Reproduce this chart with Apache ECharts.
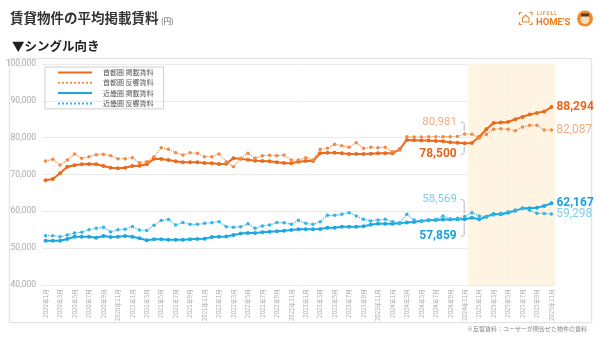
<!DOCTYPE html>
<html><head><meta charset="utf-8">
<script src="https://cdn.jsdelivr.net/npm/echarts@6/dist/echarts.min.js"></script>
<style>html,body{margin:0;padding:0;background:#fff}#c{width:600px;height:337px}</style>
</head><body><div id="c"></div>
<script>
const categories = [
 '2020年1月','2020年2月','2020年3月','2020年4月','2020年5月','2020年6月','2020年7月','2020年8月','2020年9月','2020年10月','2020年11月','2020年12月',
 '2021年1月','2021年2月','2021年3月','2021年4月','2021年5月','2021年6月','2021年7月','2021年8月','2021年9月','2021年10月','2021年11月','2021年12月',
 '2022年1月','2022年2月','2022年3月','2022年4月','2022年5月','2022年6月','2022年7月','2022年8月','2022年9月','2022年10月','2022年11月','2022年12月',
 '2023年1月','2023年2月','2023年3月','2023年4月','2023年5月','2023年6月','2023年7月','2023年8月','2023年9月','2023年10月','2023年11月','2023年12月',
 '2024年1月','2024年2月','2024年3月','2024年4月','2024年5月','2024年6月','2024年7月','2024年8月','2024年9月','2024年10月','2024年11月','2024年12月',
 '2025年1月','2025年2月','2025年3月','2025年4月','2025年5月','2025年6月','2025年7月','2025年8月','2025年9月','2025年10月','2025年11月'
];
const seriesNames = ['首都圏 掲載賃料','首都圏 反響賃料','近畿圏 掲載賃料','近畿圏 反響賃料'];
const shutokenListing = [
 68420,68780,70320,72130,72490,72760,72850,72760,72310,71850,
 71670,71850,72310,72400,72760,74300,74210,73940,73570,73300,
 73300,73300,73120,73030,72850,72940,74390,74300,74030,73760,
 73670,73570,73300,73120,73030,73480,73670,73670,75750,75930,
 75930,75750,75570,75570,75570,75660,75750,75750,75750,76830,
 79400,79300,79200,79200,79100,79000,78750,78600,78500,78550,
 80180,82270,84000,84090,84270,85000,85640,86270,86730,87090,
 88294];
const shutokenInquiry = [
 73670,74120,72580,73940,75570,74390,74840,75380,75480,75110,
 74300,74300,74570,73210,73480,74840,77290,76830,75930,75290,
 75930,75750,74840,74840,75570,73480,72130,74390,75750,74390,
 75110,75200,75110,75290,73940,73940,74570,73940,76830,77100,
 78190,77830,77380,78640,77100,77380,77290,77380,76200,76650,
 80270,80180,80180,80270,80270,80270,80270,80350,80981,80900,
 79900,80900,82270,82450,82270,81900,82900,83360,83360,82100,
 82087];
const kinkiListing = [
 52040,52040,52040,52490,53120,53120,53120,52850,53300,53030,
 53120,53300,53120,52670,52130,52400,52400,52310,52310,52310,
 52400,52490,52580,53000,53120,53150,53600,53950,54100,54150,
 54300,54430,54570,54700,54930,55110,55110,55110,55200,55570,
 55570,55840,55840,55840,55930,56380,56650,56650,56650,56740,
 57000,57100,57400,57600,57650,57800,57800,57830,57859,58280,
 57830,58550,59280,59190,59640,60180,60810,60810,61000,61450,
 62167];
const kinkiInquiry = [
 53400,53400,53130,53580,54100,54300,55000,55390,55670,54400,
 55000,55150,55900,54900,54800,56200,57500,57800,56300,56950,
 56470,56470,56740,56920,57190,55840,55660,55840,56600,55380,
 56050,56300,56950,56920,56520,57550,56740,56470,57190,58910,
 58910,59190,59640,58730,57830,57380,57650,57830,57190,56920,
 59190,57650,57380,57650,57830,58730,57920,58100,58569,59640,
 58730,58550,59000,59460,59910,60360,60700,60300,59460,59400,
 59298];
const yTicks = [40000, 50000, 60000, 70000, 80000, 90000, 100000];
const highlightFrom = '2024年12月';
const highlightTo = '2025年11月';
const noteMonth = '2024年11月';
const endMonth = '2025年11月';

const FONT = "Roboto, 'Noto Sans CJK JP', sans-serif";
const JFONT = "'Noto Sans CJK JP', sans-serif";
const fmt = v => Number(v).toLocaleString('en-US');

const hlStart = categories.indexOf(highlightFrom), hlEnd = categories.indexOf(highlightTo);
const noteIdx = categories.indexOf(noteMonth), endIdx = categories.indexOf(endMonth);
const yMin = yTicks[0], yMax = yTicks[yTicks.length - 1];
const NOTE_DIST = 6;

const seriesCfg = [
  { values: shutokenListing, color: '#ea6a1e', width: 2, dash: 'solid', symbolSize: 4, labelColor: '#e8661c', bold: true, noteDy: 11 },
  { values: shutokenInquiry, color: '#ef8a48', width: 1.2, dash: 'dotted', symbolSize: 3.5, labelColor: '#f2ab7e', bold: false, noteDy: -12 },
  { values: kinkiListing, color: '#1ba8e0', width: 2, dash: 'solid', symbolSize: 4, labelColor: '#1aa3dc', bold: true, noteDy: 17 },
  { values: kinkiInquiry, color: '#35b4e8', width: 1.2, dash: 'dotted', symbolSize: 3.5, labelColor: '#7ccdf0', bold: false, noteDy: -17 }
];

function lineSeries(name, cfg) {
  return {
    name, type: 'line', z: 3,
    symbol: 'circle', symbolSize: cfg.symbolSize,
    lineStyle: { color: cfg.color, width: cfg.width, type: cfg.dash },
    itemStyle: { color: cfg.color },
    data: cfg.values.map((v, i) => {
      if (i === endIdx) return { value: v,
        label: { show: true, position: 'right', distance: 3, formatter: p => fmt(p.value), color: cfg.labelColor, fontWeight: cfg.bold ? 'bold' : 'normal', fontSize: 12, fontFamily: FONT } };
      if (i === noteIdx) return { value: v,
        label: { show: true, position: 'left', distance: NOTE_DIST, formatter: p => fmt(p.value), color: cfg.labelColor, fontWeight: cfg.bold ? 'bold' : 'normal', fontSize: cfg.bold ? 12 : 11.5, fontFamily: FONT } };
      return v;
    }),
    labelLayout: p => p.dataIndex === noteIdx ? { dy: cfg.noteDy } : undefined
  };
}

const staticGraphic = [
  { type: 'rect', z: -10, silent: true, shape: { x: 9.5, y: 58.5, width: 582, height: 264 },
    style: { fill: '#fff', stroke: '#e3e3e3', lineWidth: 1, shadowBlur: 3, shadowColor: 'rgba(0,0,0,0.06)' } },
  { type: 'text', left: 10, top: 11, style: { text: '賃貸物件の平均掲載賃料', font: 'bold 13.5px ' + JFONT, fill: '#333' } },
  { type: 'text', left: 161, top: 17, style: { text: '(円)', font: '7.5px ' + JFONT, fill: '#555' } },
  { type: 'text', left: 12, top: 40, style: { text: '▼シングル向き', font: 'bold 12.5px ' + JFONT, fill: '#222' } },
  { type: 'text', right: 13, top: 326, style: { text: '※反響賃料：ユーザーが問合せた物件の賃料', font: '6px ' + JFONT, fill: '#888' } },
  { type: 'polyline', shape: { points: [[519.5,15],[519.5,12.5],[522,12.5]] }, style: { stroke: '#ef8a2a', lineWidth: 1.2, fill: null } },
  { type: 'polyline', shape: { points: [[529.5,12.5],[532,12.5],[532,15]] }, style: { stroke: '#ef8a2a', lineWidth: 1.2, fill: null } },
  { type: 'polyline', shape: { points: [[519.5,22],[519.5,24.5],[522,24.5]] }, style: { stroke: '#ef8a2a', lineWidth: 1.2, fill: null } },
  { type: 'polyline', shape: { points: [[529.5,24.5],[532,24.5],[532,22]] }, style: { stroke: '#ef8a2a', lineWidth: 1.2, fill: null } },
  { type: 'polygon', shape: { points: [[522.5,18],[525.75,15],[529,18],[529,22],[522.5,22]] }, style: { stroke: '#ef8a2a', lineWidth: 1.1, fill: null } },
  { type: 'text', left: 537, top: 12, style: { text: 'L I F U L L', font: 'bold 4.5px ' + FONT, fill: '#ef8a2a' } },
  { type: 'text', left: 536, top: 18, style: { text: "HOME'S", font: 'bold 9.5px ' + FONT, fill: '#ee7b1c' } },
  { type: 'circle', shape: { cx: 585, cy: 18.5, r: 8 }, style: { fill: '#f08a24' } },
  { type: 'circle', shape: { cx: 585, cy: 19.5, r: 4.5 }, style: { fill: '#f6dcb8' } },
  { type: 'rect', shape: { x: 581, y: 13.5, width: 8, height: 3 }, style: { fill: '#5a3a22' } }
];

const chart = echarts.init(document.getElementById('c'), null, { renderer: 'canvas' });
chart.setOption({
  backgroundColor: '#fff',
  animation: false,
  textStyle: { fontFamily: FONT },
  grid: { left: 42, right: 45, top: 64, bottom: 52 },
  legend: {
    data: seriesNames, orient: 'vertical', left: 45, top: 67,
    padding: [2, 10, 2, 12], itemWidth: 34, itemHeight: 7, itemGap: 3.3,
    borderColor: '#cfcfcf', borderWidth: 1,
    itemStyle: { opacity: 0 },
    textStyle: { fontSize: 7, color: '#555', fontFamily: JFONT, padding: [0, 0, 0, 6] }
  },
  xAxis: {
    type: 'category', data: categories, boundaryGap: true,
    axisLine: { show: false }, axisTick: { show: false },
    axisLabel: { rotate: 90, interval: 1, fontSize: 6, color: '#a8a8a8', margin: 4, fontFamily: JFONT }
  },
  yAxis: {
    type: 'value', min: yMin, max: yMax, interval: yTicks[1] - yTicks[0],
    axisLine: { show: false }, axisTick: { show: false },
    splitLine: { lineStyle: { color: '#ebebeb', width: 1 } },
    axisLabel: { fontSize: 8.5, color: '#aaaaaa', margin: 6, formatter: v => fmt(v) }
  },
  series: [
    { name: 'highlight', type: 'bar', z: 1, silent: true, barCategoryGap: 0, barWidth: '100%',
      itemStyle: { color: '#fff4e2' }, legendHoverLink: false,
      data: categories.map((c, i) => (i >= hlStart && i <= hlEnd) ? yMax : '-') }
  ].concat(seriesCfg.map((cfg, k) => lineSeries(seriesNames[k], cfg))),
  graphic: staticGraphic
});

// leader lines from the note labels to their points, positioned via the chart's own scales
const leaders = seriesCfg.map((cfg, k) => {
  const p = chart.convertToPixel({ seriesIndex: k + 1 }, [noteIdx, cfg.values[noteIdx]]);
  const ly = p[1] + cfg.noteDy;
  const sgn = cfg.noteDy > 0 ? 1 : -1;
  const xr = p[0] - NOTE_DIST + 2, xc = p[0] - 0.5;
  return { type: 'polyline', silent: true, z: 5,
    shape: { points: [[xr, ly], [xc - 1.5, ly], [xc, ly - sgn * 1.5], [xc, p[1] + sgn * 3]] },
    style: { stroke: '#a5a5a5', lineWidth: 0.8, fill: null } };
});
chart.setOption({ graphic: staticGraphic.concat(leaders) });
</script></body></html>
